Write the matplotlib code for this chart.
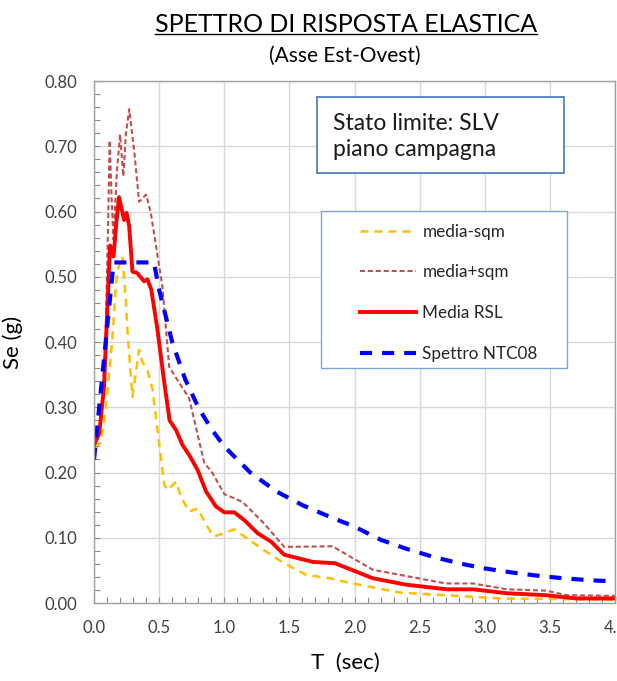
import matplotlib
matplotlib.use("Agg")
import matplotlib.pyplot as plt
from matplotlib.lines import Line2D
from matplotlib.patches import Rectangle
from matplotlib.ticker import MultipleLocator

plt.rcParams['font.family'] = ['Lato', 'DejaVu Sans']

# Media RSL
t_media = [0.0, 0.04, 0.077, 0.10, 0.123, 0.15, 0.17, 0.192, 0.231, 0.25, 0.27, 0.295, 0.33,
           0.385, 0.41, 0.44, 0.487, 0.5, 0.54, 0.58, 0.63, 0.68, 0.73, 0.795, 0.86, 0.936,
           1.0, 1.077, 1.154, 1.256, 1.36, 1.46, 1.68, 1.85, 2.14, 2.40, 2.71, 2.91, 3.17,
           3.47, 3.70, 4.0]
se_media = [0.242, 0.26, 0.332, 0.44, 0.548, 0.531, 0.58, 0.622, 0.587, 0.598, 0.577, 0.508, 0.506,
            0.493, 0.496, 0.48, 0.419, 0.399, 0.337, 0.28, 0.265, 0.242, 0.227, 0.204, 0.171, 0.148,
            0.139, 0.139, 0.127, 0.107, 0.094, 0.074, 0.063, 0.061, 0.038, 0.028, 0.021, 0.021, 0.015,
            0.012, 0.007, 0.007]

# media+sqm
t_plus = [0.0, 0.04, 0.07, 0.09, 0.11, 0.12, 0.135, 0.15, 0.175, 0.2, 0.225, 0.245, 0.27, 0.31,
          0.346, 0.40, 0.436, 0.525, 0.577, 0.63, 0.73, 0.846, 0.91, 1.0, 1.14, 1.31, 1.46, 1.83,
          2.14, 2.70, 2.91, 3.17, 3.47, 3.63, 4.0]
se_plus = [0.24, 0.26, 0.33, 0.419, 0.598, 0.709, 0.62, 0.557, 0.66, 0.718, 0.654, 0.72, 0.757, 0.69,
           0.615, 0.626, 0.598, 0.485, 0.362, 0.345, 0.314, 0.215, 0.199, 0.167, 0.155, 0.121, 0.086, 0.087,
           0.051, 0.030, 0.030, 0.021, 0.019, 0.012, 0.011]

# media-sqm
t_minus = [0.0, 0.05, 0.09, 0.14, 0.167, 0.18, 0.218, 0.244, 0.256, 0.295, 0.346, 0.37, 0.41, 0.45,
           0.5, 0.54, 0.564, 0.63, 0.667, 0.73, 0.795, 0.87, 0.92, 1.0, 1.077, 1.167, 1.32, 1.46,
           1.63, 1.81, 1.96, 2.35, 2.70, 3.12, 4.0]
se_minus = [0.24, 0.245, 0.296, 0.403, 0.485, 0.51, 0.531, 0.465, 0.419, 0.316, 0.388, 0.37, 0.357, 0.327,
            0.245, 0.181, 0.173, 0.186, 0.163, 0.14, 0.145, 0.117, 0.102, 0.107, 0.113, 0.10, 0.079, 0.061,
            0.043, 0.038, 0.031, 0.016, 0.012, 0.007, 0.005]

# Spettro NTC08
t_ntc = [0.0, 0.15, 0.46, 0.5, 0.6, 0.7, 0.8, 0.9, 1.0, 1.2, 1.4, 1.6, 1.8, 2.0, 2.2, 2.4, 2.6,
         2.8, 3.0, 3.2, 3.4, 3.6, 3.8, 4.0]
se_ntc = [0.22, 0.522, 0.522, 0.48, 0.40, 0.343, 0.30, 0.267, 0.24, 0.20, 0.171, 0.15, 0.133, 0.117,
          0.097, 0.083, 0.071, 0.061, 0.053, 0.047, 0.042, 0.038, 0.035, 0.033]

fig = plt.figure(figsize=(6.17, 6.81), dpi=100)
ax = fig.add_axes([0.1524, 0.1145, 0.8444, 0.7665])

ax.plot(t_minus, se_minus, color='#FFC000', lw=1.8, linestyle=(0, (3.2, 2.4)), label='media-sqm')
ax.plot(t_plus, se_plus, color='#C0504D', lw=1.5, linestyle=(0, (2.4, 1.4)), label='media+sqm')
ax.plot(t_media, se_media, color='#FF0000', lw=2.8, label='Media RSL')
ax.plot(t_ntc, se_ntc, color='#0000FF', lw=3.0, linestyle=(0, (2.9, 2.4)), label='Spettro NTC08')

ax.set_xlim(0, 4.0)
ax.set_ylim(0, 0.8)
ax.xaxis.set_major_locator(MultipleLocator(0.5))
ax.xaxis.set_minor_locator(MultipleLocator(0.1))
ax.yaxis.set_major_locator(MultipleLocator(0.1))
ax.yaxis.set_minor_locator(MultipleLocator(0.02))
ax.xaxis.set_major_formatter(lambda v, p: f"{v:.1f}")
ax.yaxis.set_major_formatter(lambda v, p: f"{v:.2f}")
ax.tick_params(which='both', direction='in', color='#8C8C8C', length=4, width=0.8)
ax.tick_params(which='major', labelsize=12, labelcolor='#404040')
ax.tick_params(axis='x', which='major', pad=12)
ax.tick_params(axis='y', which='major', pad=12)
ax.grid(True, which='major', color='#D9D9D9', lw=1.0)
ax.set_axisbelow(True)
for s in ax.spines.values():
    s.set_color('#A0A0A0')
    s.set_linewidth(1.0)

ax.set_ylabel('Se (g)', fontsize=16)
ax.yaxis.set_label_coords(-0.136, 0.5)
ax.set_xlabel('T  (sec)', fontsize=16, va='center')
ax.xaxis.set_label_coords(0.482, -0.115)

# title with underline
title = fig.text(0.561, 0.953, 'SPETTRO DI RISPOSTA ELASTICA', ha='center', va='baseline', fontsize=18)
fig.text(0.559, 0.909, '(Asse Est-Ovest)', ha='center', va='baseline', fontsize=15)

# text box
ax.add_patch(Rectangle((0.428, 0.8238), 0.474, 0.1456, transform=ax.transAxes,
                       fc='white', ec='#4F81BD', lw=1.3, zorder=5))
ax.text(0.4587, 0.893, 'Stato limite: SLV\npiano campagna', transform=ax.transAxes,
        fontsize=16.5, va='center', ha='left', linespacing=1.3, color='#1a1a1a', zorder=6)

# legend
ax.add_patch(Rectangle((0.4357, 0.450), 0.472, 0.301, transform=ax.transAxes,
                       fc='white', ec='#7EA6D0', lw=1.0, zorder=5))
leg = ax.legend(loc='upper left', bbox_to_anchor=(0.5106, 0.727), frameon=False,
                fontsize=12.3, handlelength=3.3, handletextpad=0.35, labelspacing=1.45,
                borderpad=0, borderaxespad=0)
leg.set_zorder(6)
for t in leg.get_texts():
    t.set_color('#262626')

fig.canvas.draw()
bb = title.get_window_extent().transformed(fig.transFigure.inverted())
fig.add_artist(Line2D([bb.x0, bb.x1], [0.950, 0.950], color='black', lw=1.0))

fig.savefig('out.png', dpi=100)
